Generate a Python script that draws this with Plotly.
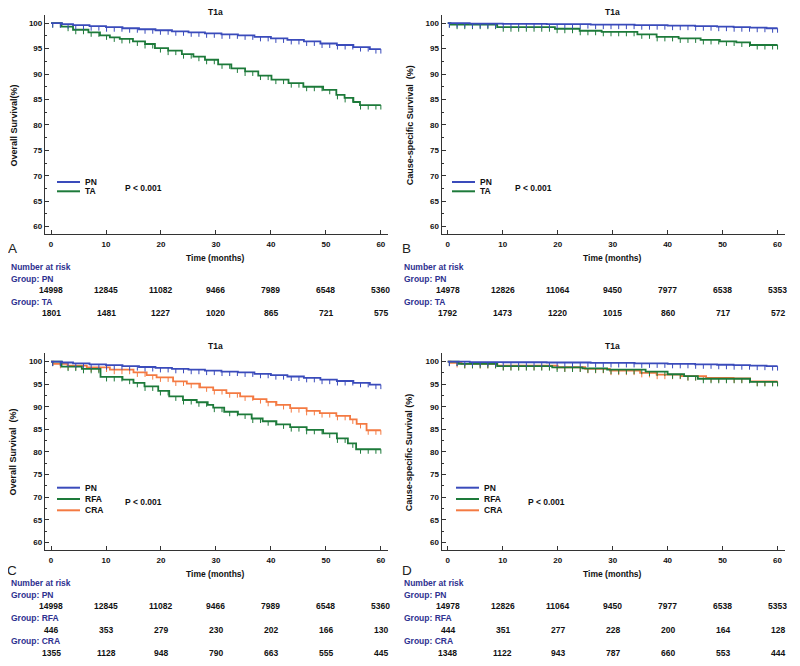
import numpy as np
import plotly.graph_objects as go

# ---------------- data ----------------
months_ticks = [0, 10, 20, 30, 40, 50, 60]

# Overall survival, PN (panels A and C)
pn_os_t = [0, 2, 4, 7, 10, 13, 16, 19, 22, 25, 28, 31, 34, 37, 40, 43, 46, 49, 52, 55, 58]
pn_os_s = [100, 99.8, 99.6, 99.4, 99.2, 99.0, 98.8, 98.6, 98.4, 98.2, 98.0, 97.8, 97.6, 97.3, 97.0, 96.7, 96.4, 96.0, 95.7, 95.3, 94.9]

# Overall survival, TA (panel A)
ta_os_t = [0, 1.9, 4.0, 6.8, 8.9, 10.7, 12.5, 14.9, 17.1, 18.9, 21.3, 23.8, 25.9, 28, 30.4, 32.8, 35.3, 37.7, 40.1, 43.2, 45.9, 49.5, 51.9, 53.4, 55, 56.2]
ta_os_s = [100, 99.3, 98.7, 98.2, 97.6, 97.2, 96.9, 96.4, 95.9, 95.1, 94.6, 93.9, 93.4, 92.8, 91.9, 91.1, 90.5, 89.7, 88.9, 88.2, 87.5, 86.9, 85.9, 85.3, 84.5, 83.9]

# Cause-specific survival, PN (panels B and D)
pn_css_t = [0, 4, 10, 18, 26, 34, 40, 45, 49, 52, 55, 58]
pn_css_s = [100, 99.9, 99.85, 99.8, 99.7, 99.6, 99.5, 99.4, 99.3, 99.2, 99.1, 99.0]

# Cause-specific survival, TA (panel B)
ta_css_t = [0, 0.5, 9, 19.5, 24, 28, 34.5, 38, 42, 46, 49.5, 52.5, 55]
ta_css_s = [100, 99.7, 99.2, 98.9, 98.5, 98.3, 97.8, 97.3, 97.0, 96.7, 96.4, 96.2, 95.7]

# Overall survival, RFA / CRA (panel C)
rfa_os_t = [0, 1.9, 5.6, 9, 13, 15, 17, 19.5, 21.5, 24, 26.5, 28.5, 29.5, 31.5, 34, 36.5, 38.5, 41, 43.5, 46.5, 49.5, 52, 54, 55.5]
rfa_os_s = [100, 98.9, 98.4, 96.6, 96.0, 95.3, 94.5, 93.5, 92.3, 91.5, 91.0, 90.4, 89.8, 88.9, 88.3, 87.4, 86.8, 86.1, 85.5, 84.9, 84.1, 83.0, 81.9, 80.6]
cra_os_t = [0, 0.4, 3, 6.5, 10.7, 15, 17.4, 19.2, 22.2, 24.7, 27.1, 29.5, 31.9, 34.4, 36.8, 39.2, 41, 43.5, 46.5, 48.9, 51.9, 54.4, 55.6, 57.4]
cra_os_s = [100, 99.5, 99.1, 98.7, 98.2, 97.6, 97.0, 96.5, 95.6, 95.1, 94.3, 93.7, 93.0, 92.3, 91.7, 91.1, 90.4, 89.7, 89.1, 88.6, 88.0, 87.2, 86.2, 84.8]

# Cause-specific survival, RFA / CRA (panel D)
rfa_css_t = [0, 2, 9, 19, 24.5, 29, 36, 40, 43, 45.5, 55]
rfa_css_s = [100, 99.5, 99.0, 98.7, 98.5, 98.2, 97.8, 97.2, 96.8, 96.2, 95.5]
cra_css_t = [0, 0.5, 2.5, 9, 20, 25, 29.5, 35, 38, 42.5, 47, 52, 55]
cra_css_s = [100, 99.7, 99.5, 99.1, 98.75, 98.4, 98.0, 97.5, 97.1, 96.8, 96.4, 96.3, 95.6]

# censoring marks (months)
censor_times = [0.3, 1.7, 3.1, 4.5, 5.9, 7.3, 8.7, 10.1, 11.5, 12.9, 14.3, 15.7, 17.1, 18.5,
                19.9, 21.3, 22.7, 24.1, 25.5, 26.9, 28.3, 29.7, 31.1, 32.5, 33.9, 35.3, 36.7,
                38.1, 39.5, 40.9, 42.3, 43.7, 45.1, 46.5, 47.9, 49.3, 50.7, 52.1, 53.5, 54.9,
                56.3, 57.7, 59.1, 60.0]

# numbers at risk
risk_a_pn = [14998, 12845, 11082, 9466, 7989, 6548, 5360]
risk_a_ta = [1801, 1481, 1227, 1020, 865, 721, 575]
risk_b_pn = [14978, 12826, 11064, 9450, 7977, 6538, 5353]
risk_b_ta = [1792, 1473, 1220, 1015, 860, 717, 572]
risk_c_pn = [14998, 12845, 11082, 9466, 7989, 6548, 5360]
risk_c_rfa = [446, 353, 279, 230, 202, 166, 130]
risk_c_cra = [1355, 1128, 948, 790, 663, 555, 445]
risk_d_pn = [14978, 12826, 11064, 9450, 7977, 6538, 5353]
risk_d_rfa = [444, 351, 277, 228, 200, 164, 128]
risk_d_cra = [1348, 1122, 943, 787, 660, 553, 444]

# ---------------- styling ----------------
OFF = 8                      # page body margin of the browser
W, H = 800 - OFF, 666 - OFF  # figure size so that it ends at the window edge
FONT = "Liberation Sans"
BLUE = "#3a4bbb"
GREEN = "#1d7a3a"
ORANGE = "#f47a42"
NAVY = "#2e3190"
AX = "#333333"
END = 60


def px(x):
    return (x - OFF) / W


def py(y):
    return 1 - (y - OFF) / H


panels = [
    dict(key="A", n="", xdom=(45, 388), ydom=(15, 234), yr=(58.55, 101.6),
         ytitle="Overall Survival(%)", leg_x=57, pval_x=123, title_y=12.5,
         curves=[("PN", pn_os_t, pn_os_s, BLUE), ("TA", ta_os_t, ta_os_s, GREEN)],
         risk=[("PN", risk_a_pn), ("TA", risk_a_ta)]),
    dict(key="B", n="2", xdom=(441.7, 784.7), ydom=(15, 234), yr=(58.55, 101.6),
         ytitle="Cause-specific Survival  (%)", leg_x=452, pval_x=513, title_y=12.5,
         curves=[("PN", pn_css_t, pn_css_s, BLUE), ("TA", ta_css_t, ta_css_s, GREEN)],
         risk=[("PN", risk_b_pn), ("TA", risk_b_ta)]),
    dict(key="C", n="3", xdom=(45, 388), ydom=(353, 550), yr=(58.3, 101.9),
         ytitle="Overall Survival  (%)", leg_x=57, pval_x=123, title_y=345.5,
         curves=[("PN", pn_os_t, pn_os_s, BLUE), ("RFA", rfa_os_t, rfa_os_s, GREEN),
                 ("CRA", cra_os_t, cra_os_s, ORANGE)],
         risk=[("PN", risk_c_pn), ("RFA", risk_c_rfa), ("CRA", risk_c_cra)]),
    dict(key="D", n="4", xdom=(441.7, 784.7), ydom=(353, 550), yr=(58.3, 101.9),
         ytitle="Cause-specific Survival (%)", leg_x=456, pval_x=526, title_y=345.5,
         curves=[("PN", pn_css_t, pn_css_s, BLUE), ("RFA", rfa_css_t, rfa_css_s, GREEN),
                 ("CRA", cra_css_t, cra_css_s, ORANGE)],
         risk=[("PN", risk_d_pn), ("RFA", risk_d_rfa), ("CRA", risk_d_cra)]),
]

fig = go.Figure()
annotations = []
shapes = []


def bold(size, color="#111111"):
    return dict(family=FONT, size=size, color=color, weight="bold")


for p in panels:
    xa = "x" + p["n"]
    ya = "y" + p["n"]
    x0, x1 = p["xdom"]
    ytop, ybot = p["ydom"]
    yr = p["yr"]
    xr = (-1.1, 61.3)
    ppu_y = (ybot - ytop) / (yr[1] - yr[0])
    ppu_x = (x1 - x0) / (xr[1] - xr[0])
    xzero = x0 + (0 - xr[0]) * ppu_x
    xmid = xzero + 30 * ppu_x
    tick_d = 4.5 / ppu_y

    for name, t, s, col in p["curves"][::-1]:
        t = np.asarray(t, float)
        s = np.asarray(s, float)
        fig.add_trace(go.Scatter(
            x=list(t) + [END], y=list(s) + [s[-1]], mode="lines",
            line=dict(color=col, width=1.8, shape="hv"),
            xaxis=xa, yaxis=ya, showlegend=False, hoverinfo="skip"))
        ct = np.asarray(censor_times)
        idx = np.searchsorted(t, ct, side="right") - 1
        sv = s[idx]
        cx, cy = [], []
        for a, b in zip(ct, sv):
            cx += [a, a, None]
            cy += [b, b - tick_d, None]
        fig.add_trace(go.Scatter(
            x=cx, y=cy, mode="lines", line=dict(color=col, width=1),
            xaxis=xa, yaxis=ya, showlegend=False, hoverinfo="skip"))

    sfx = p["n"]
    fig.layout["xaxis" + sfx] = dict(
        domain=[px(x0), px(x1)], range=list(xr), anchor=ya,
        showline=True, linecolor=AX, linewidth=1.3, showgrid=False, zeroline=False,
        tickvals=months_ticks, ticks="inside", ticklen=4, tickcolor=AX, tickwidth=1,
        tickfont=bold(8), ticklabelstandoff=2)
    fig.layout["yaxis" + sfx] = dict(
        domain=[py(ybot), py(ytop)], range=list(yr), anchor=xa,
        showline=True, linecolor=AX, linewidth=1.3, showgrid=False, zeroline=False,
        tickvals=[60, 65, 70, 75, 80, 85, 90, 95, 100], ticks="inside", ticklen=4,
        tickcolor=AX, tickwidth=1, tickfont=bold(8),
        minor=dict(ticks="inside", ticklen=2, dtick=2.5, tick0=0, tickcolor=AX, showgrid=False))

    off_x = 0 if p["key"] in "AC" else 396.7
    annotations.append(dict(text="T1a", x=px(xmid), y=py(p["title_y"]), xref="paper",
                            yref="paper", showarrow=False, font=bold(8.5),
                            xanchor="center", yanchor="middle"))
    ymid = ytop + (ybot - ytop) / 2 + 1
    annotations.append(dict(text=p["ytitle"], x=px(13 + off_x), y=py(ymid), xref="paper",
                            yref="paper", showarrow=False, textangle=-90, font=bold(9),
                            xanchor="center", yanchor="middle"))
    ly0 = ytop + 167 if p["key"] in "AB" else ytop + 134.7
    lstep = 9.3 if p["key"] in "AB" else 11.3
    lx = p["leg_x"]
    for i, (name, t, s, col) in enumerate(p["curves"]):
        yy = ly0 + i * lstep
        shapes.append(dict(type="line", xref="paper", yref="paper",
                           x0=px(lx), x1=px(lx + 23), y0=py(yy), y1=py(yy),
                           line=dict(color=col, width=2)))
        annotations.append(dict(text=name, x=px(lx + 26), y=py(yy), xref="paper",
                                yref="paper", showarrow=False, font=bold(8.5),
                                xanchor="left", yanchor="middle"))
    pval_y = ly0 + (len(p["curves"]) - 1) * lstep / 2 + (1.5 if p["key"] in "AB" else 2.5)
    annotations.append(dict(text="P < 0.001", x=px(p["pval_x"]),
                            y=py(pval_y), xref="paper", yref="paper", showarrow=False,
                            font=bold(8.5), xanchor="left", yanchor="middle"))
    annotations.append(dict(text="Time (months)", x=px(xmid), y=py(ybot + 24), xref="paper",
                            yref="paper", showarrow=False, font=bold(8.5),
                            xanchor="center", yanchor="middle"))
    annotations.append(dict(text=p["key"], x=px(12 + off_x - (2 if p["key"] in "BD" else 0)),
                            y=py(ybot + 14 if p["key"] in "AB" else ybot + 20),
                            xref="paper", yref="paper", showarrow=False,
                            font=dict(family=FONT, size=13.5, color="#222222"),
                            xanchor="center", yanchor="middle"))
    base = ybot + 33 if p["key"] in "AB" else ybot + 33.2
    rstep = 11.6
    tx = 9 + off_x - 4 * (p["key"] in "BD")
    annotations.append(dict(text="Number at risk", x=px(tx), y=py(base), xref="paper",
                            yref="paper", showarrow=False, font=bold(8.5, NAVY),
                            xanchor="left", yanchor="middle"))
    for i, (name, vals) in enumerate(p["risk"]):
        gy = base + rstep + 2 * i * rstep
        annotations.append(dict(text="Group: " + name, x=px(tx), y=py(gy),
                                xref="paper", yref="paper", showarrow=False,
                                font=bold(8.5, NAVY), xanchor="left", yanchor="middle"))
        for m, v in zip(months_ticks, vals):
            annotations.append(dict(text=str(v), x=m, y=py(gy + rstep), xref=xa,
                                    yref="paper", showarrow=False, font=bold(8.5),
                                    xanchor="center", yanchor="middle"))

fig.update_layout(
    width=W, height=H, margin=dict(l=0, r=0, t=0, b=0),
    paper_bgcolor="white", plot_bgcolor="white",
    annotations=annotations, shapes=shapes, showlegend=False,
    font=dict(family=FONT),
)

fig.write_html("out.html")
